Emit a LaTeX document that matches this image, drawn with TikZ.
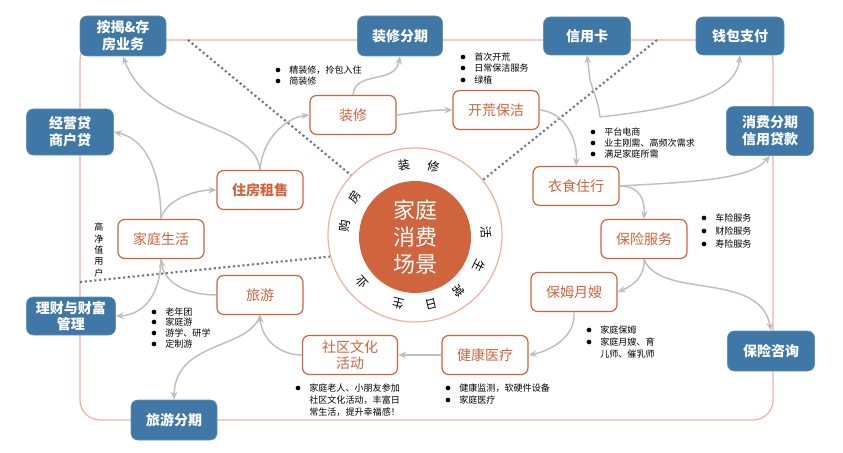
\documentclass[tikz,border=0pt]{standalone}
\usepackage{fontspec}
\setmainfont{Noto Sans CJK SC}
\usetikzlibrary{arrows.meta}
\definecolor{bl}{HTML}{3F77A6}
\definecolor{org}{HTML}{D0643C}
\definecolor{frm}{HTML}{EDB29C}
\definecolor{arr}{HTML}{BFBFBF}
\definecolor{dot}{HTML}{6B7A8A}
\begin{document}
\begin{tikzpicture}[x=0.75pt,y=-0.75pt,
 blue/.style={fill=bl,draw=bl!80!white,rounded corners=5pt,text=white,font=\bfseries\fontsize{10.5}{12.5}\selectfont,align=center,inner sep=0},
 obox/.style={fill=white,draw=org,line width=0.9pt,rounded corners=5pt,text=org,font=\fontsize{10.5}{12.5}\selectfont,align=center,inner sep=0},
 ar/.style={draw=arr,line width=1.1pt,-{Stealth[length=6pt,width=5pt]}},
 dl/.style={draw=dot,line width=1.6pt,dotted},
 bt/.style={font=\fontsize{6.8}{8.5}\selectfont,anchor=west,inner sep=0},
 bu/.style={circle,fill=black,inner sep=0,minimum size=3.5pt},
 ring/.style={font=\fontsize{9}{9}\selectfont,inner sep=0}]
\useasboundingbox (0,0) rectangle (843,453);
\draw[frm,line width=0.9pt,rounded corners=15pt] (80,40) rectangle (773,420);
% dotted lines
\draw[dl] (188,40) -- (375,195);
\draw[dl] (657,40) -- (458,200);
\draw[dl] (80,282) -- (365,253);
% center
\draw[frm,line width=0.9pt,fill=white] (415,235) circle (87);
\fill[org] (415,237) circle (56);
\node[text=white,align=center,font=\fontsize{16.5}{20}\selectfont] (c) at (415,237) {家庭\\消费\\场景};
\foreach \a/\t in {99/装,75/修,148/房,173/购,2/活,-26/生,-52/常,-77/日,-104/生,-138/业}
  \node[ring,rotate=\a-90] at ({415+71*cos(\a)},{235-71*sin(\a)}) {\t};
% blue boxes
\node[blue,minimum width=86*0.75pt,minimum height=40*0.75pt] (aj) at (123,36) {按揭\&存\\房业务};
\node[blue,minimum width=85*0.75pt,minimum height=40*0.75pt] (zxfq) at (400,36) {装修分期};
\node[blue,minimum width=87*0.75pt,minimum height=38*0.75pt] (xyk) at (587,36) {信用卡};
\node[blue,minimum width=88*0.75pt,minimum height=38*0.75pt] (qb) at (740,36) {钱包支付};
\node[blue,minimum width=87*0.75pt,minimum height=46*0.75pt] (jyd) at (70,132) {经营贷\\商户贷};
\node[blue,minimum width=87*0.75pt,minimum height=49*0.75pt] (xf) at (770,131) {消费分期\\信用贷款};
\node[blue,minimum width=89*0.75pt,minimum height=38*0.75pt] (lc) at (71,316) {理财与财富\\管理};
\node[blue,minimum width=86*0.75pt,minimum height=40*0.75pt] (lyfq) at (174,420) {旅游分期};
\node[blue,minimum width=87*0.75pt,minimum height=40*0.75pt] (bxzx) at (771,351) {保险咨询};
% orange boxes
\tikzset{ow/.style={minimum width=86*0.75pt,minimum height=39*0.75pt}}
\node[obox,ow,font=\bfseries\fontsize{10.5}{12.5}\selectfont] (zf) at (260,190) {住房租售};
\node[obox,ow] (zx) at (353,115) {装修};
\node[obox,ow] (kh) at (496,110) {开荒保洁};
\node[obox,ow] (ys) at (576,186) {衣食住行};
\node[obox,ow] (bx) at (644,239) {保险服务};
\node[obox,ow] (bm) at (574,292) {保姆月嫂};
\node[obox,ow] (jk) at (485,355) {健康医疗};
\node[obox,minimum width=95*0.75pt,minimum height=39*0.75pt] (sq) at (350,355) {社区文化\\活动};
\node[obox,ow] (ly) at (260,295) {旅游};
\node[obox,ow] (jt) at (161,239) {家庭生活};
% arrows
\draw[ar] (zf.north) .. controls (255,120) and (150,130) .. (aj.south);
\draw[ar] (zf.north) .. controls (262,140) and (285,118) .. (zx.west);
\draw[ar] (jt.north) .. controls (165,200) and (195,190) .. (zf.west);
\draw[ar] (jt.north) .. controls (161,180) and (150,140) .. (jyd.east);
\draw[ar] (zx.north) .. controls (355,70) and (395,85) .. (zxfq.south);
\draw[ar] (zx.east) .. controls (420,112) and (430,110) .. (kh.west);
\draw[ar] (kh.east) .. controls (565,112) and (578,140) .. (ys.north);
\coordinate (j) at (600,117);
\draw[ar] (j) .. controls (598,100) and (592,88) .. (590,80) -- (xyk.south);
\draw[ar] (j) .. controls (660,110) and (735,100) .. (qb.south);
\draw[ar] (ys.east) .. controls (690,182) and (750,180) .. (xf.south);
\draw[ar] (ys.east) .. controls (640,186) and (645,200) .. (bx.north);
\draw[ar] (bx.south) .. controls (645,275) and (635,285) .. (bm.east);
\draw[ar] (bx.south) .. controls (660,300) and (760,270) .. (bxzx.north);
\draw[ar] (bm.south) .. controls (576,340) and (545,352) .. (jk.east);
\draw[ar] (jk.west) -- (sq.east);
\draw[ar] (sq.west) .. controls (280,355) and (262,340) .. (ly.south);
\draw[ar] (ly.south) .. controls (250,350) and (175,340) .. (lyfq.north);
\draw[ar] (ly.west) .. controls (190,295) and (165,285) .. (jt.south);
\draw[ar] (jt.south) .. controls (160,300) and (140,315) .. (lc.east);
% bullets
\foreach \x/\y/\t in {289/70/精装修，拎包入住,289/81/简装修,
 474/57/首次开荒,474/68/日常保洁服务,474/80/绿植/鲜花服务,
 604/132/平台电商,604/143/业主刚需、高频次需求,604/154/满足家庭所需,
 715/218/车险服务,715/231/财险服务,715/244/寿险服务,
 600/330/家庭保姆,600/342/家庭月嫂、育,
 459/388/健康监测，软硬件设备,459/400/家庭医疗,
 309/388/家庭老人、小朋友参加,
 165/312/老年团,165/322/家庭游,165/333/游学、研学,165/344/定制游}
 {\node[bu] at (\x-11,\y) {}; \node[bt] at (\x,\y) {\t};}
\node[bt] at (600,354) {儿师、催乳师};
\node[bt] at (309,400) {社区文化活动，丰富日};
\node[bt] at (309,412) {常生活，提升幸福感！};
\node[font=\fontsize{6.8}{8.5}\selectfont,align=center,inner sep=0] at (99,250) {高\\净\\值\\用\\户};
\end{tikzpicture}
\end{document}
